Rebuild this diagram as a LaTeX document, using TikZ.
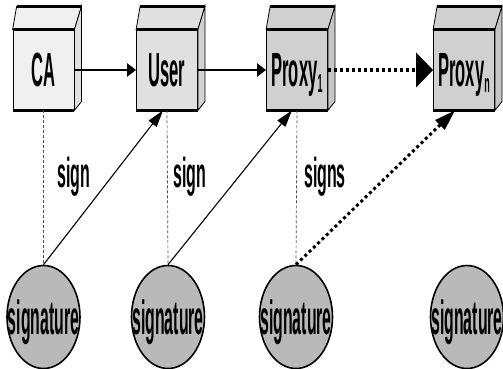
\documentclass[tikz,border=0pt]{standalone}
\usepackage{fontspec}
\setmainfont{Liberation Sans}
\newfontfamily\narrowsf[FakeStretch=0.345]{Liberation Sans Bold}
\newfontfamily\sigsf[FakeStretch=0.33]{Liberation Sans Bold}
\newfontfamily\labelsf[FakeStretch=0.38]{Liberation Sans Bold}
\usepackage{tikz}
\usetikzlibrary{arrows.meta, calc, shapes.geometric}
\definecolor{cafill}{RGB}{240, 240, 240}
\definecolor{userfill}{RGB}{224, 224, 224}
\definecolor{proxyfill}{RGB}{208, 208, 208}
\definecolor{sigfill}{RGB}{185, 185, 185}

\tikzset{
    cubebox/.style={draw, line width=0.8pt, minimum width=61pt, minimum height=80pt,
        inner sep=0pt, text depth=0pt, font=\narrowsf\fontsize{48}{48}\selectfont},
    sigcircle/.style={ellipse, draw, line width=1.6pt, fill=sigfill, minimum width=73pt,
        minimum height=103pt, inner sep=0pt, text depth=0pt,
        font=\sigsf\fontsize{48}{48}\selectfont},
    signlabel/.style={anchor=base, font=\labelsf\fontsize{42}{42}\selectfont},
    link/.style={line width=2.4pt, -{Triangle[length=9pt, width=13pt]}},
    dotlink/.style={line width=4pt, dash pattern=on 3pt off 3pt, -{Triangle[length=17pt, width=34pt]}},
    signlink/.style={line width=1.1pt, -{Triangle[length=17pt, width=10pt]}},
    dotsignlink/.style={line width=3pt, dash pattern=on 3pt off 3pt, -{Triangle[length=21pt, width=13pt]}},
    guide/.style={line width=0.7pt, gray!60!black, dash pattern=on 3pt off 2pt},
}

% top and side faces of a box, plus the heavy edges
\newcommand{\cubeshade}[3]{%
    \filldraw[fill=#2, line width=0.8pt] (#1.north west) -- ++(4,-23) -- ($(#1.north east)+(7,-23)$) -- (#1.north east) -- cycle;
    \filldraw[fill=#3, line width=0.8pt] (#1.north east) -- ++(7,-23) -- ++(0,95) -- (#1.south east) -- cycle;
    \draw[line width=2.5pt] ($(#1.north west)+(4,-23)$) -- ($(#1.north east)+(7,-23)$);
    \draw[line width=2.5pt] (#1.north west) -- (#1.north east);
    \draw[line width=2.5pt] (#1.south west) -- (#1.south east);
}
% lowered index after a box name
\newcommand{\boxindex}[1]{\raisebox{-6pt}{\fontsize{26}{26}\selectfont #1}}

\begin{document}
\begin{tikzpicture}[x=1pt, y=-1pt]
    \useasboundingbox (0,0) rectangle (503,369);

    % Boxes
    \node[cubebox, fill=cafill] (ca) at (43.5,70) {CA};
    \node[cubebox, fill=userfill] (user) at (167,70) {User};
    \node[cubebox, fill=proxyfill] (proxy1) at (297,70) {Proxy\boxindex{1}};
    \node[cubebox, fill=proxyfill] (proxyn) at (464,70) {Proxy\boxindex{n}};
    \cubeshade{ca}{cafill}{gray!25}
    \cubeshade{user}{userfill}{gray!35}
    \cubeshade{proxy1}{proxyfill}{gray!45}
    \cubeshade{proxyn}{proxyfill}{gray!45}

    % Signatures
    \node[sigcircle] (sig1) at (43.5,317) {\makebox[0pt]{signature}};
    \node[sigcircle] (sig2) at (168,317) {\makebox[0pt]{signature}};
    \node[sigcircle] (sig3) at (296,317) {\makebox[0pt]{signature}};
    \node[sigcircle] (sig4) at (467,317) {\makebox[0pt]{signature}};

    % Delegation chain
    \draw[link] (ca.east) -- (user.west);
    \draw[link] (user.east) -- (proxy1.west);
    \draw[dotlink] (proxy1.east) -- (proxyn.west);

    % Who signs what
    \draw[guide] (ca.south) -- (sig1.north);
    \draw[guide] (user.south) -- (sig2.north);
    \draw[guide] (proxy1.south) -- (sig3.north);
    \node[signlabel] (sign1) at (74,187) {sign};
    \node[signlabel] (sign2) at (190,187) {sign};
    \node[signlabel] (sign3) at (325,187) {signs};

    \draw[signlink] (sig1.north) -- ([xshift=-4pt]user.south);
    \draw[signlink] (sig2.north) -- ([xshift=-5pt]proxy1.south);
    \draw[dotsignlink] (sig3.north) -- ([xshift=-9pt]proxyn.south);
\end{tikzpicture}
\end{document}
